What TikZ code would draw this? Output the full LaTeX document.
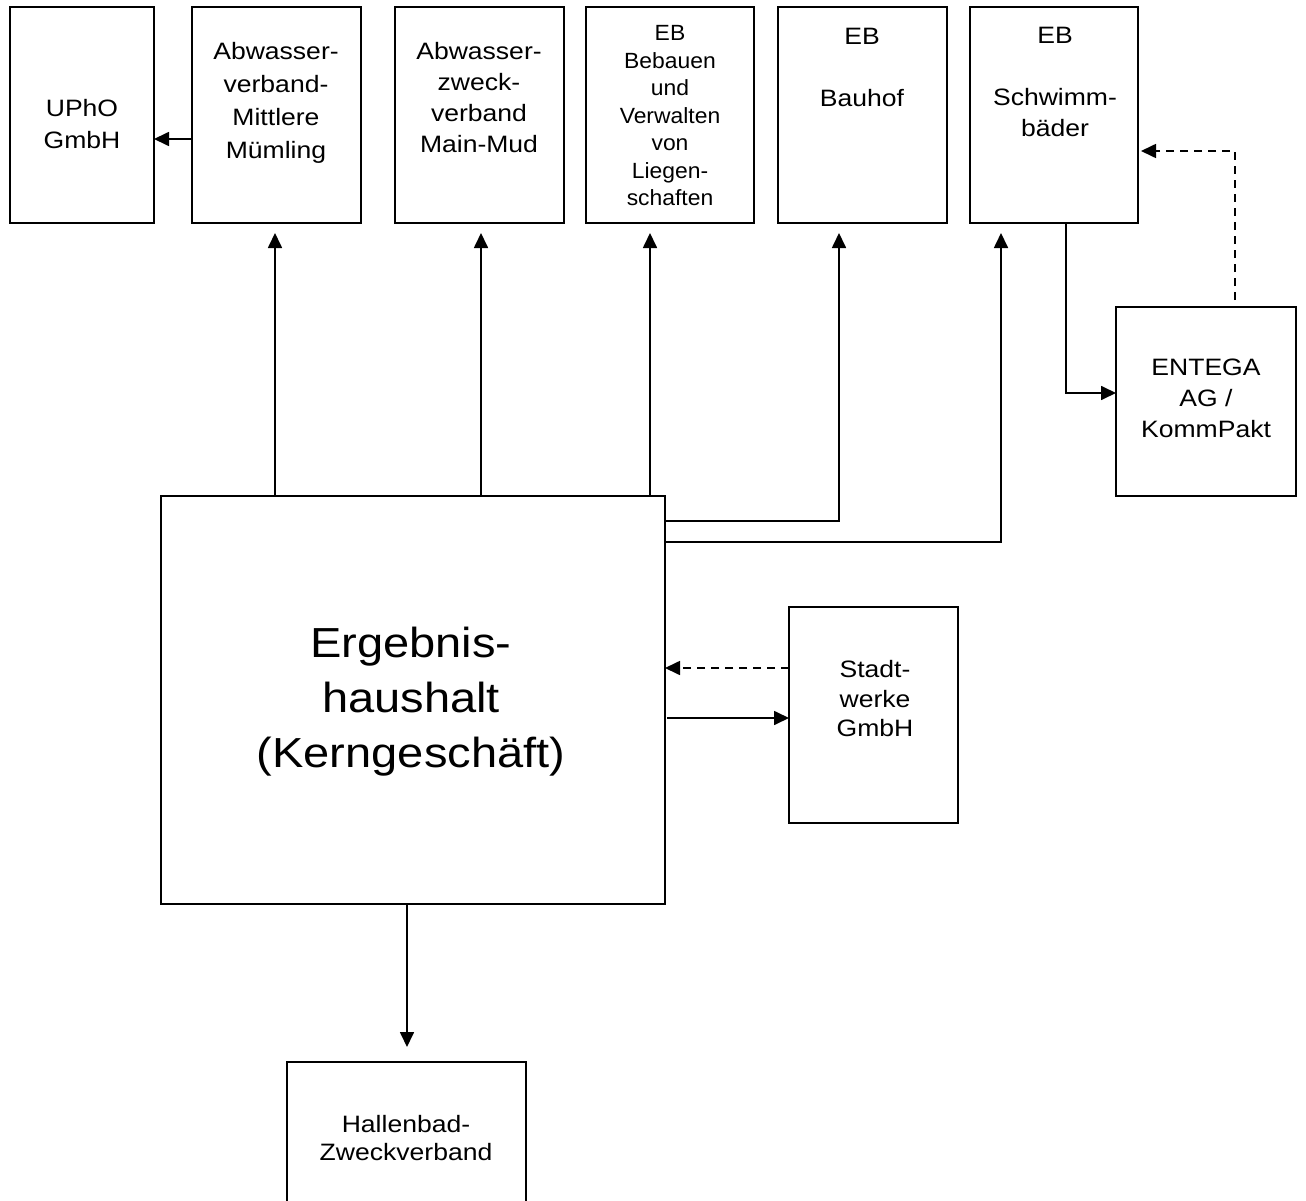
\documentclass[tikz,border=0pt]{standalone}
\usepackage{fontspec}
\setmainfont{Liberation Sans}[FakeStretch=1.12]
\newfontfamily\narrowfont{Liberation Sans}[FakeStretch=1.04]
\usetikzlibrary{arrows.meta}
\tikzset{
  box/.style={draw, line width=1.8pt, inner sep=0pt, outer sep=0pt},
  txt/.style={inner sep=0pt, outer sep=0pt, align=center},
  conn/.style={line width=1.7pt},
  arr/.style={conn, -{Triangle[length=15pt,width=14pt]}},
  dsh/.style={dash pattern=on 8pt off 6pt},
}
\newcommand{\sm}[1]{\fontsize{23.7}{#1}\selectfont}
\begin{document}
\begin{tikzpicture}[x=1pt,y=-1pt]
\useasboundingbox (0,0) rectangle (1306,1201);
% boxes
\node[box, minimum width=144pt, minimum height=216pt] (uph) at (82,115) {};
\node[box, minimum width=169pt, minimum height=216pt] (amm) at (276.5,115) {};
\node[box, minimum width=169pt, minimum height=216pt] (amu) at (479.5,115) {};
\node[box, minimum width=168pt, minimum height=216pt] (ebl) at (670,115) {};
\node[box, minimum width=169pt, minimum height=216pt] (ebb) at (862.5,115) {};
\node[box, minimum width=168pt, minimum height=216pt] (ebs) at (1054,115) {};
\node[box, minimum width=180pt, minimum height=189pt] (ent) at (1206,401.5) {};
\node[box, minimum width=504pt, minimum height=408pt] (erg) at (413,700) {};
\node[box, minimum width=169pt, minimum height=216pt] (stw) at (873.5,715) {};
\node[box, minimum width=239pt, minimum height=160pt] (hal) at (406.5,1142) {};
% texts
\node[txt, font=\sm{32}] (tuph) at (82,124) {UPhO\\GmbH};
\node[txt, font=\sm{33}] (tamm) at (276,103) {Abwasser-\\verband-\\Mittlere\\Mümling};
\node[txt, font=\sm{31}] (tamu) at (479,98) {Abwasser-\\zweck-\\verband\\Main-Mud};
\node[txt, font=\narrowfont\fontsize{22}{27.5}\selectfont] (tebl) at (670,116) {EB\\Bebauen\\und\\Verwalten\\von\\Liegen-\\schaften};
\node[txt, font=\sm{31}] (tebb) at (862,67) {EB\\\mbox{}\\Bauhof};
\node[txt, font=\sm{31}] (tebs) at (1055,82) {EB\\\mbox{}\\Schwimm-\\bäder};
\node[txt, font=\sm{31}] (tent) at (1206,398) {ENTEGA\\AG /\\KommPakt};
\node[txt, font=\sm{29.5}] (tstw) at (875,699) {Stadt-\\werke\\GmbH};
\node[txt, font=\sm{28}] (thal) at (406,1138) {Hallenbad-\\Zweckverband};
\node[txt, font=\fontsize{42}{55}\selectfont] (terg) at (411,702) {Ergebnis-\\haushalt\\(Kerngeschäft)};
% connectors
\draw[arr] (amm.west |- 0,139) -- (uph.east |- 0,139);
\draw[arr, shorten >=10pt] (erg.north -| 275,0) -- (amm.south -| 275,0);
\draw[arr, shorten >=10pt] (erg.north -| 481,0) -- (amu.south -| 481,0);
\draw[arr, shorten >=10pt] (erg.north -| 650,0) -- (ebl.south -| 650,0);
\draw[arr, shorten >=10pt] (erg.east |- 0,521) -| (ebb.south -| 839,0);
\draw[arr, shorten >=10pt] (erg.east |- 0,542) -| (ebs.south -| 1001,0);
\draw[arr] (ebs.south -| 1066,0) |- (ent.west |- 0,393);
\draw[arr, dsh, shorten <=7pt, shorten >=3pt] (ent.north -| 1235,0) |- (ebs.east |- 0,151);
\draw[arr, dsh] (stw.west |- 0,668) -- (erg.east |- 0,668);
\draw[arr, shorten <=2pt] (erg.east |- 0,718) -- (stw.west |- 0,718);
\draw[arr, shorten >=15pt] (erg.south -| 407,0) -- (hal.north -| 407,0);
\end{tikzpicture}
\end{document}
